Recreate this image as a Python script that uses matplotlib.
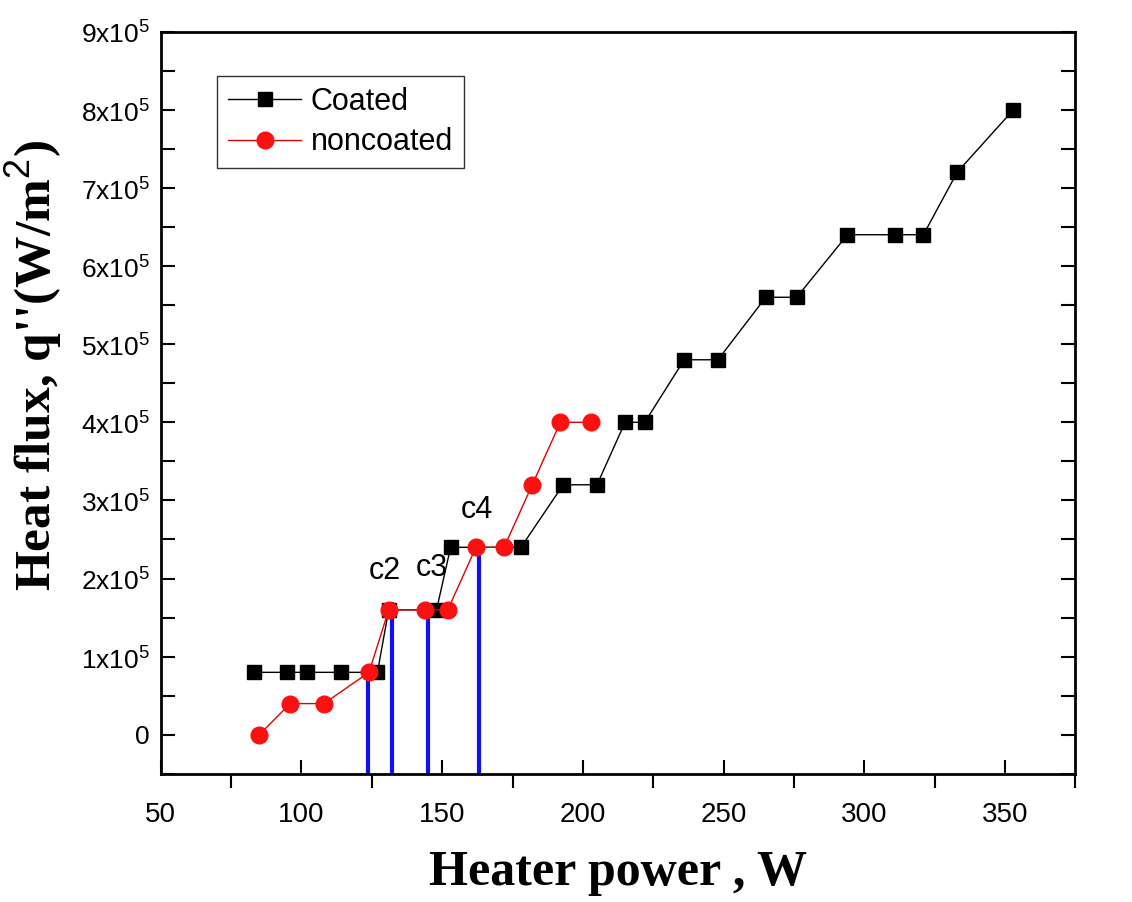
import matplotlib.pyplot as plt
import numpy as np
from matplotlib.ticker import MultipleLocator, FixedLocator

# heater power (W) and heat flux (W/m^2)
coated_x = [83, 95, 102, 114, 127, 131, 148, 153, 178, 193, 205, 215, 222,
            236, 248, 265, 276, 294, 311, 321, 333, 353]
coated_y = [0.8e5, 0.8e5, 0.8e5, 0.8e5, 0.8e5, 1.6e5, 1.6e5, 2.4e5, 2.4e5,
            3.2e5, 3.2e5, 4.0e5, 4.0e5, 4.8e5, 4.8e5, 5.6e5, 5.6e5, 6.4e5,
            6.4e5, 6.4e5, 7.2e5, 8.0e5]
noncoated_x = [85, 96, 108, 124, 131, 144, 152, 162, 172, 182, 192, 203]
noncoated_y = [0, 0.4e5, 0.4e5, 0.8e5, 1.6e5, 1.6e5, 1.6e5, 2.4e5, 2.4e5,
               3.2e5, 4.0e5, 4.0e5]

# marked points (blue lines) and their labels
mark_x = [123.5, 132, 145, 163]
mark_top = [0.8e5, 1.7e5, 1.6e5, 2.4e5]
label_text = ["c2", "c3", "c4"]
label_x = [129.5, 146.5, 162.5]
label_y = [2.1e5, 2.14e5, 2.88e5]

yticks = [0, 1e5, 2e5, 3e5, 4e5, 5e5, 6e5, 7e5, 8e5, 9e5]
ytick_labels = ["0"] + ["%dx10$^{5}$" % i for i in range(1, 10)]

plt.rcParams['font.family'] = ['Liberation Sans', 'DejaVu Sans']
plt.rcParams['mathtext.fontset'] = 'custom'
plt.rcParams['mathtext.rm'] = 'Liberation Sans'

fig = plt.figure(figsize=(11.32, 9.02), dpi=100)
ax = fig.add_axes([0.142, 0.142, 0.808, 0.823])

ax.vlines(mark_x, -0.5e5, mark_top, colors='#1010ee', linewidth=3, zorder=1)

ax.plot(coated_x, coated_y, color='black', marker='s', markersize=10,
        linewidth=1, label='Coated', zorder=3)
ax.plot(noncoated_x, noncoated_y, color='#e00000', marker='o', markersize=12,
        markerfacecolor='#ff1010', markeredgecolor='#ff1010',
        linewidth=1, label='noncoated', zorder=4)

for t, x, y in zip(label_text, label_x, label_y):
    ax.text(x, y, t, fontsize=22, ha='center', va='center')

ax.set_xlim(50, 375)
ax.set_ylim(-0.5e5, 9e5)
ax.xaxis.set_major_locator(MultipleLocator(50))
ax.xaxis.set_minor_locator(FixedLocator(np.arange(75, 376, 50)))
ax.yaxis.set_major_locator(FixedLocator(yticks))
ax.yaxis.set_minor_locator(FixedLocator(np.arange(-0.5e5, 9e5, 1e5)))
ax.set_yticklabels(ytick_labels)

ax.tick_params(axis='x', which='major', direction='in', length=10, width=1.5,
               labelsize=20, pad=20)
ax.tick_params(axis='x', which='minor', direction='out', length=10, width=1.5)
ax.tick_params(axis='y', which='both', direction='in', length=10, width=1.5,
               right=True, labelsize=19, pad=8)

for s in ax.spines.values():
    s.set_linewidth(2)

ax.set_xlabel("Heater power , W", fontsize=36, fontweight='bold',
              family='Liberation Serif', labelpad=16)
ax.set_ylabel("Heat flux, q''(W/m$^{2}$)", fontsize=37, fontweight='bold',
              family='Liberation Serif')
ax.yaxis.set_label_coords(-0.106, 0.55)

leg = ax.legend(loc='upper left', bbox_to_anchor=(0.062, 0.94), fontsize=22,
                frameon=True, fancybox=False, edgecolor='black',
                handlelength=2.4, handletextpad=0.3, borderpad=0.35,
                labelspacing=0.35, borderaxespad=0)
leg.get_frame().set_linewidth(1)

fig.savefig("out.png", dpi=100)
